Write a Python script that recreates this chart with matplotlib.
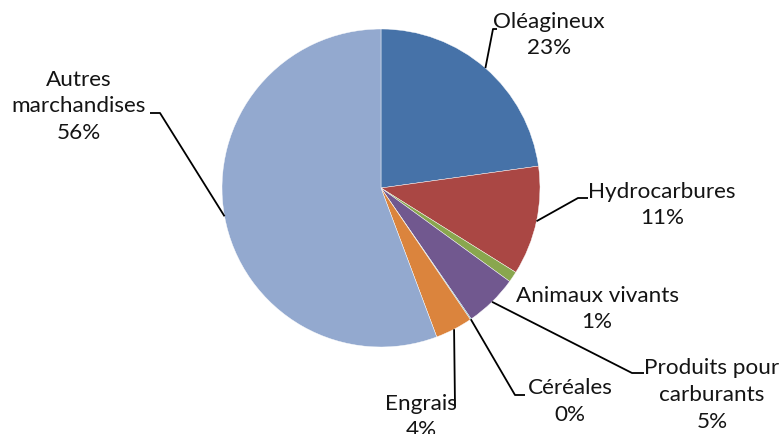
import numpy as np
import matplotlib
matplotlib.use("Agg")
import matplotlib.pyplot as plt

categories = ["Oléagineux", "Hydrocarbures", "Animaux vivants",
              "Produits pour\ncarburants", "Céréales", "Engrais",
              "Autres\nmarchandises"]
values = [22.8, 11.1, 1.1, 5.4, 0.1, 3.8, 55.7]
colors = ["#4672A8", "#AA4744", "#89A64E", "#71588F", "#4198AF", "#DB843D", "#93A9CF"]

# layout (pixel coords, y from top)
W, H = 782, 434
cx, cy, R = 381, 188, 159
label_pos = [(549, 35), (662, 205), (597, 309), (712, 395), (570, 401.5), (421, 417), (79, 106.5)]
elbows = [[(493, 29), (497, 29)],
          [(578, 198), (588, 198)],
          None,
          [(632, 373), (644, 373)],
          [(515, 395), (525, 395)],
          [(455, 406)],
          [(160, 113), (150, 113)]]

plt.rcParams['font.family'] = ['Lato', 'DejaVu Sans']
fig = plt.figure(figsize=(W / 100, H / 100), dpi=100)
ax = fig.add_axes([0, 0, 1, 1])

wedges, _ = ax.pie(values, colors=colors, startangle=90, counterclock=False,
                   center=(cx, H - cy), radius=R,
                   wedgeprops=dict(edgecolor='white', linewidth=0.3))
ax.set_xlim(0, W)
ax.set_ylim(0, H)
ax.set_aspect('equal')
ax.axis('off')

total = sum(values)
for w, cat, v, (lx, ly), el in zip(wedges, categories, values, label_pos, elbows):
    mid = np.deg2rad((w.theta1 + w.theta2) / 2)
    if el is not None:
        xs = [cx + R * np.cos(mid)] + [p[0] for p in el]
        ys = [H - cy + R * np.sin(mid)] + [H - p[1] for p in el]
        ax.plot(xs, ys, color='black', lw=1.3, solid_capstyle='butt', zorder=3)
    pct = f"{round(v / total * 100):.0f}%"
    ax.text(lx, H - ly, f"{cat}\n{pct}", ha='center', va='center',
            fontsize=16.2, color='#141414', linespacing=1.42, zorder=4)

fig.savefig("out.png", dpi=100)
